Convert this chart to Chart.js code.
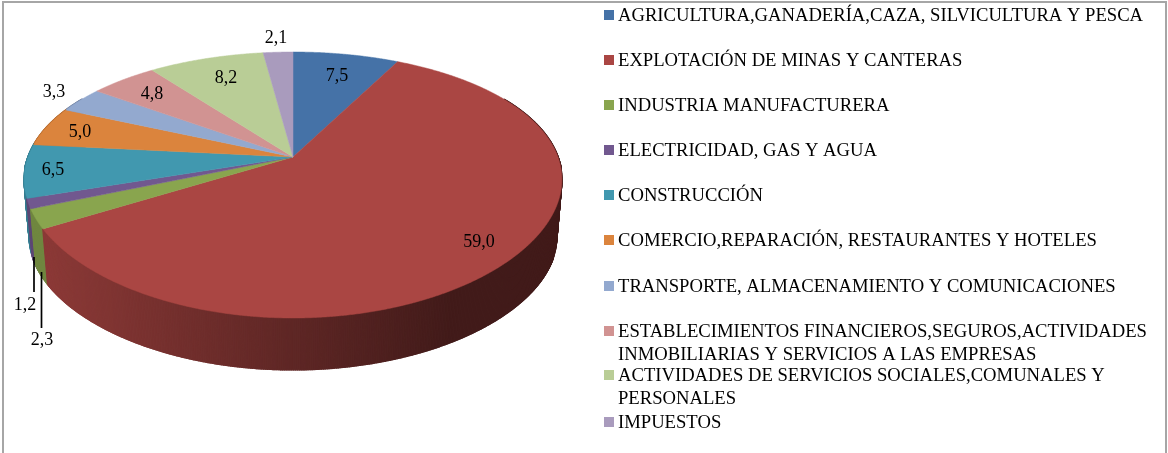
<!DOCTYPE html>
<html>
<head>
<meta charset="utf-8">
<script src="https://cdn.jsdelivr.net/npm/chart.js@4/dist/chart.umd.js"></script>
<style>
html,body{margin:0;padding:0;background:#fff;overflow:hidden}
canvas{display:block}
</style>
</head>
<body>
<canvas id="c" width="1168" height="453"></canvas>
<script>
const categories = [
  "AGRICULTURA,GANADERÍA,CAZA, SILVICULTURA Y PESCA",
  "EXPLOTACIÓN DE MINAS Y CANTERAS",
  "INDUSTRIA MANUFACTURERA",
  "ELECTRICIDAD, GAS Y AGUA",
  "CONSTRUCCIÓN",
  "COMERCIO,REPARACIÓN, RESTAURANTES Y HOTELES",
  "TRANSPORTE, ALMACENAMIENTO Y COMUNICACIONES",
  "ESTABLECIMIENTOS FINANCIEROS,SEGUROS,ACTIVIDADES\nINMOBILIARIAS Y SERVICIOS A LAS EMPRESAS",
  "ACTIVIDADES DE SERVICIOS SOCIALES,COMUNALES Y\nPERSONALES",
  "IMPUESTOS"
];
const values = [7.5, 59.0, 2.3, 1.2, 6.5, 5.0, 3.3, 4.8, 8.2, 2.1];
const colors = ["#4572A7","#AA4643","#89A54E","#71588F","#4198AF","#DB843D","#93A9CF","#D19392","#B9CD96","#A99BBD"];

const FONT = '"Liberation Serif","Times New Roman",serif';
const TOP_FACE = {cx:293, c:265, a:94.05, b:157, k:-0.2105, kx:-0.17};
const BASE_FACE = {cx:293, c:260, a:77, b:215, k:-0.2105, kx:-0.17};
function project(f, ang){
  const u = Math.cos(ang), v = Math.sin(ang);
  return [f.cx + f.c*u/(1 + f.kx*v), (f.b + f.a*v)/(1 + f.k*v)];
}
function shade(hex, f){
  const n = parseInt(hex.slice(1),16);
  return `rgb(${Math.round((n>>16&255)*f)},${Math.round((n>>8&255)*f)},${Math.round((n&255)*f)})`;
}
function wallFactor(x){
  const t = Math.min(1, Math.max(0, (x-48)/(450-48)));
  return 0.82 - 0.43*t;
}
// Slices are the library's own arc elements, drawn in a perspective projection of their angles.
Chart.ArcElement.prototype.draw = function(ctx){
  const col = this.options.backgroundColor;
  const {startAngle:s, endAngle:e} = this;
  ctx.save();
  ctx.beginPath();
  ctx.moveTo(TOP_FACE.cx, TOP_FACE.b);
  const n = Math.max(2, Math.ceil((e-s)/0.005));
  for(let i=0;i<=n;i++){
    const p = project(TOP_FACE, s+(e-s)*i/n);
    ctx.lineTo(p[0],p[1]);
  }
  ctx.closePath();
  ctx.fillStyle = col;
  ctx.strokeStyle = col;
  ctx.lineWidth = 0.5;
  ctx.fill();
  ctx.stroke();
  ctx.restore();
};
const wallPlugin = {
  id:'wall',
  beforeDatasetsDraw(chart){
    const ctx = chart.ctx, quads = [];
    chart.getDatasetMeta(0).data.forEach(arc=>{
      const {startAngle:s,endAngle:e} = arc;
      const col = arc.options.backgroundColor;
      const n = Math.max(1, Math.ceil((e-s)/0.006));
      for(let i=0;i<n;i++){
        const a0 = s+(e-s)*i/n, a1 = s+(e-s)*(i+1)/n;
        if(Math.sin((a0+a1)/2) < -0.5) continue;
        const p = [project(TOP_FACE,a0),project(TOP_FACE,a1),project(BASE_FACE,a1),project(BASE_FACE,a0)];
        quads.push({p,col,y:p[2][1]});
      }
    });
    quads.sort((q,r)=>q.y-r.y);
    ctx.save();
    ctx.lineWidth = 1.4;
    quads.forEach(q=>{
      const c = shade(q.col, wallFactor((q.p[0][0]+q.p[3][0])/2));
      ctx.fillStyle = c; ctx.strokeStyle = c;
      ctx.beginPath();
      q.p.forEach((pt,i)=> i?ctx.lineTo(pt[0],pt[1]):ctx.moveTo(pt[0],pt[1]));
      ctx.closePath(); ctx.fill(); ctx.stroke();
    });
    ctx.restore();
  }
};
const decorPlugin = {
  id:'decor',
  afterDraw(chart){
    const ctx = chart.ctx;
    ctx.save();
    // frame (open at the bottom)
    ctx.strokeStyle = '#a6a6a6'; ctx.lineWidth = 2;
    ctx.beginPath(); ctx.moveTo(3,453); ctx.lineTo(3,2); ctx.lineTo(1166,2); ctx.lineTo(1166,453); ctx.stroke();
    // leader lines
    ctx.strokeStyle = '#000'; ctx.lineWidth = 1.7;
    ctx.beginPath(); ctx.moveTo(34,257); ctx.lineTo(34,292); ctx.moveTo(41.5,272); ctx.lineTo(41.5,328); ctx.stroke();
    // data labels
    const labelPos = [[337,76],[479,242],[42,340],[25,305],[53,170],[80,132],[54,92],[152,94],[226,78],[276,38]];
    ctx.font = '18px '+FONT; ctx.fillStyle = '#000'; ctx.textAlign = 'center'; ctx.textBaseline = 'middle';
    chart.data.datasets[0].data.forEach((v,i)=>{
      ctx.fillText(v.toFixed(1).replace('.',','), labelPos[i][0], labelPos[i][1]);
    });
    // legend
    const rowY = [15,60,105,150,195,240,286,331,375,422];
    ctx.textAlign = 'left';
    ctx.font = '18.65px '+FONT;
    chart.data.labels.forEach((t,i)=>{
      ctx.fillStyle = colors[i];
      ctx.fillRect(604,rowY[i]-5,10,10);
      ctx.fillStyle = '#000';
      t.split('\n').forEach((line,j)=> ctx.fillText(line,618,rowY[i]+1+j*23));
    });
    ctx.restore();
  }
};
new Chart(document.getElementById('c'),{
  type:'pie',
  data:{labels:categories,datasets:[{data:values,backgroundColor:colors,borderWidth:0,clip:false}]},
  options:{
    responsive:false,animation:false,
    plugins:{legend:{display:false},tooltip:{enabled:false}},
    layout:{padding:0}
  },
  plugins:[wallPlugin,decorPlugin]
});
</script>
</body>
</html>
